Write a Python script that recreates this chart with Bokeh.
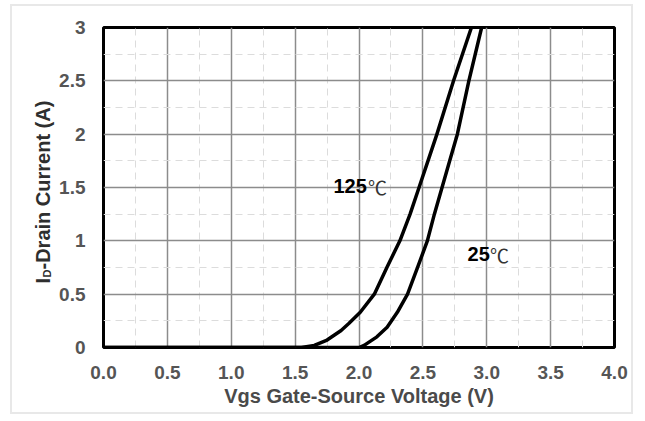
from bokeh.plotting import figure
from bokeh.models import Range1d, FixedTicker, Label
from bokeh.embed import file_html
from bokeh.resources import INLINE
import math

# ---- data ----
vgs_125 = [0.0, 1.55, 1.65, 1.75, 1.86, 1.92, 2.01, 2.12, 2.22, 2.32, 2.40, 2.47, 2.54, 2.61, 2.74, 2.88]
id_125 = [0.0, 0.0, 0.02, 0.07, 0.16, 0.225, 0.33, 0.50, 0.755, 1.00, 1.25, 1.50, 1.75, 2.00, 2.50, 3.00]

vgs_25 = [0.0, 2.00, 2.04, 2.14, 2.22, 2.30, 2.38, 2.46, 2.535, 2.59, 2.65, 2.71, 2.77, 2.86, 2.96]
id_25 = [0.0, 0.0, 0.02, 0.10, 0.19, 0.33, 0.50, 0.755, 1.00, 1.25, 1.50, 1.75, 2.00, 2.50, 3.00]

x_ticks = [0, 0.5, 1, 1.5, 2, 2.5, 3, 3.5, 4]
x_tick_labels = ["0.0", "0.5", "1.0", "1.5", "2.0", "2.5", "3.0", "3.5", "4.0"]
y_ticks = [0, 0.5, 1, 1.5, 2, 2.5, 3]
y_tick_labels = ["0", "0.5", "1", "1.5", "2", "2.5", "3"]
x_minor = [0.25, 0.75, 1.25, 1.75, 2.25, 2.75, 3.25, 3.75]
y_minor = [0.25, 0.75, 1.25, 1.75, 2.25, 2.75]

curve_temps = ["125", "25"]
temp_unit = "\u2103"
x_title = "Vgs Gate-Source Voltage (V)"
y_title_main, y_title_sub, y_title_rest = "I", "D", "-Drain Current (A)"

FONT = "Liberation Sans"

p = figure(width=623, height=410, output_backend="svg", toolbar_location=None,
           x_range=Range1d(0, 4), y_range=Range1d(0, 3),
           min_border_left=91, min_border_right=21, min_border_top=21, min_border_bottom=69)
p.styles = {"border": "2px solid #e8e8e8", "margin-left": "10px", "margin-top": "4px"}

p.xaxis.ticker = FixedTicker(ticks=x_ticks, minor_ticks=x_minor)
p.yaxis.ticker = FixedTicker(ticks=y_ticks, minor_ticks=y_minor)
p.xaxis.major_label_overrides = {t: l for t, l in zip(x_ticks, x_tick_labels)}
p.yaxis.major_label_overrides = {t: l for t, l in zip(y_ticks, y_tick_labels)}

for ax in (p.xaxis, p.yaxis):
    ax.major_label_text_font = FONT
    ax.major_label_text_font_style = "bold"
    ax.major_label_text_font_size = "19px"
    ax.major_label_text_color = "#555555"
    ax.major_tick_line_color = None
    ax.minor_tick_line_color = None
    ax.axis_line_color = None
p.xaxis.major_label_standoff = 12
p.yaxis.major_label_standoff = 12

p.xaxis.axis_label = x_title
p.xaxis.axis_label_text_font = FONT
p.xaxis.axis_label_text_font_style = "bold"
p.xaxis.axis_label_text_font_size = "20px"
p.xaxis.axis_label_text_color = "#4a4a4a"
p.xaxis.axis_label_standoff = 3

for g in (p.xgrid, p.ygrid):
    g.grid_line_color = "#8c8c8c"
    g.grid_line_width = 1.5
    g.minor_grid_line_color = "#dcdcdc"
    g.minor_grid_line_dash = "7 5"
    g.minor_grid_line_width = 1

p.outline_line_color = "black"
p.outline_line_width = 3
p.outline_line_alpha = 1

p.line(vgs_125, id_125, line_color="black", line_width=3.5, line_join="round")
p.line(vgs_25, id_25, line_color="black", line_width=3.5, line_join="round")

# curve labels (number bold, degree sign thin)
def temp_label(x, y, num, unit_dx):
    p.add_layout(Label(x=x, y=y, text=num, text_font=FONT, text_font_style="bold",
                       text_font_size="20px", text_color="black", text_baseline="middle", text_align="left"))
    p.add_layout(Label(x=x + unit_dx, y=y, text=temp_unit, text_font="Noto Sans CJK SC",
                       text_font_style="normal", text_font_size="19px", text_color="#333333",
                       text_baseline="middle", text_align="left"))

temp_label(1.80, 1.51, curve_temps[0], 0.27)
temp_label(2.85, 0.875, curve_temps[1], 0.175)

# rotated y-axis title with subscript D; placed in side panels so it is not clipped
px_y = 3.0 / 320.0
px_x = 4.0 / 511.0
yx = -0.47
y0 = 0.60
common = dict(text_font=FONT, text_font_style="bold", text_color="#2e2e2e",
              angle=math.pi / 2, text_align="left", text_baseline="middle")
p.add_layout(Label(x=yx, y=y0, text=y_title_main, text_font_size="20px", **common), "above")
p.add_layout(Label(x=yx + 4 * px_x, y=y0 + 6 * px_y, text=y_title_sub, text_font_size="11px", **common), "above")
p.add_layout(Label(x=yx, y=y0 + 14 * px_y, text=y_title_rest, text_font_size="20px", **common), "left")

open("out.html", "w").write(file_html(p, INLINE))
